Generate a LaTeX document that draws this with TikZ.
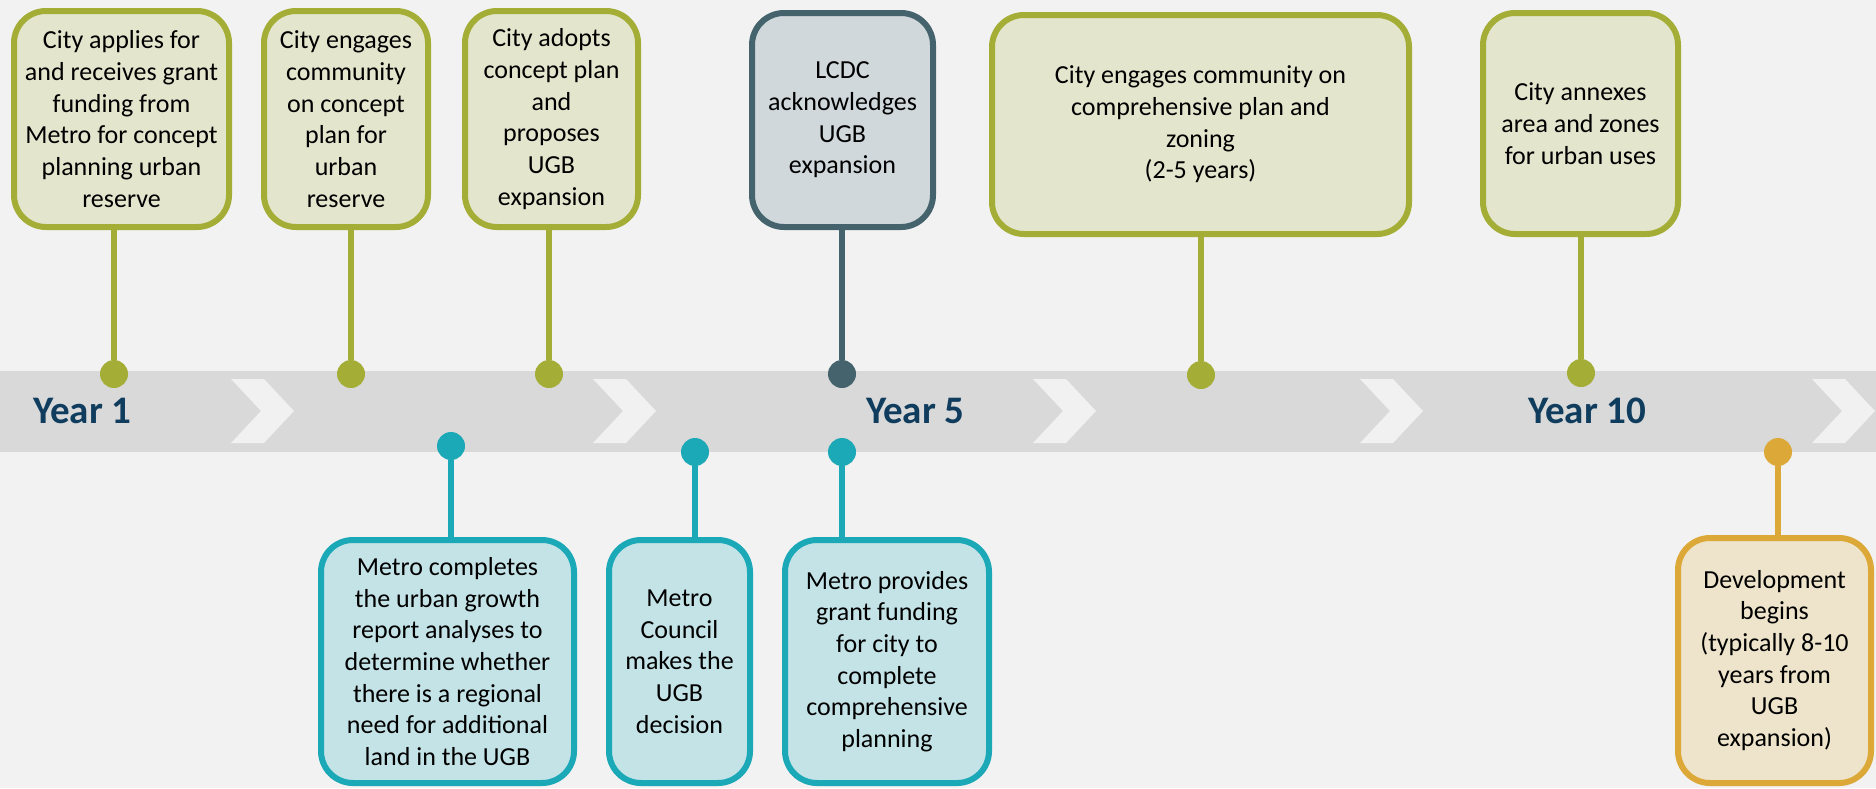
\documentclass[tikz,border=0pt]{standalone}
\usepackage{fontspec}
\setmainfont{Carlito}

\definecolor{bgcol}{HTML}{F2F2F2}
\definecolor{bandcol}{HTML}{D9D9D9}
\definecolor{chevcol}{HTML}{F1F1F1}
\definecolor{yearcol}{HTML}{103D5E}
\definecolor{olive}{HTML}{A4AE37}
\definecolor{olivefill}{HTML}{E4E5CD}
\definecolor{slate}{HTML}{45636D}
\definecolor{slatefill}{HTML}{D0D8DB}
\definecolor{tealc}{HTML}{1BA8B7}
\definecolor{tealfill}{HTML}{C4E3E7}
\definecolor{goldc}{HTML}{DCA939}
\definecolor{goldfill}{HTML}{EEE4CB}

\tikzset{
  event/.style={rounded corners=32pt, line width=6pt, align=center, inner sep=0pt,
    font=\fontsize{26}{31.7}\selectfont},
  citybox/.style={event, draw=olive, fill=olivefill},
  lcdcbox/.style={event, draw=slate, fill=slatefill},
  metrobox/.style={event, draw=tealc, fill=tealfill},
  devbox/.style={event, draw=goldc, fill=goldfill},
  dot/.style={shape=circle, minimum size=28pt, inner sep=0pt},
  stem/.style={line width=5.5pt},
  year/.style={anchor=west, inner sep=0pt, text=yearcol,
    font=\fontsize{39}{44}\selectfont\bfseries}
}

\begin{document}
\begin{tikzpicture}[x=1pt,y=-1pt]
    \useasboundingbox (0,0) rectangle (1876,788);
    \fill[bgcol] (0,0) rectangle (1876,788);
    % time band with chevrons
    \fill[bandcol] (0,371) rectangle (1876,452);
    \foreach \cx in {231,593,1033,1360,1812}
        \fill[chevcol] (\cx,379) -- ++(33,0) -- ++(30,32) -- ++(-30,32) -- ++(-33,0) -- ++(30,-32) -- cycle;

    \node[year] (y1) at (33,411) {Year 1};
    \node[year] (y5) at (866,411) {Year 5};
    \node[year] (y10) at (1528,411) {Year 10};

    % dots on the band
    \node[dot, fill=olive] (d1) at (114,374) {};
    \node[dot, fill=olive] (d2) at (351,374) {};
    \node[dot, fill=olive] (d3) at (549,374) {};
    \node[dot, fill=slate] (dl) at (842,374) {};
    \node[dot, fill=olive] (d5) at (1201,375) {};
    \node[dot, fill=olive] (d6) at (1581,373) {};
    \node[dot, fill=tealc] (t1) at (451,446) {};
    \node[dot, fill=tealc] (t2) at (695,452) {};
    \node[dot, fill=tealc] (t3) at (842,452) {};
    \node[dot, fill=goldc] (g1) at (1778,452) {};

    % city and LCDC steps above
    \node[citybox, minimum width=215pt, minimum height=216pt] (b1) at (121.5,119)
        {City applies for\\and receives grant\\funding from\\Metro for concept\\planning urban\\reserve};
    \node[citybox, minimum width=164pt, minimum height=216pt] (b2) at (346,119)
        {City engages\\community\\on concept\\plan for\\urban\\reserve};
    \node[citybox, minimum width=173pt, minimum height=216pt] (b3) at (551.5,119)
        {City adopts\\concept plan\\and\\proposes\\UGB\\expansion};
    \node[lcdcbox, minimum width=181pt, minimum height=214pt] (bl) at (842.5,120)
        {LCDC\\acknowledges\\UGB\\expansion};
    \node[citybox, minimum width=417pt, minimum height=219pt] (b5) at (1200.5,124.5)
        {City engages community on\\comprehensive plan and\\zoning\\(2-5 years)};
    \node[citybox, minimum width=195pt, minimum height=221pt] (b6) at (1580.5,123.5)
        {City annexes\\area and zones\\for urban uses};

    % metro steps below
    \node[metrobox, minimum width=253pt, minimum height=243pt] (m1) at (447.5,661.5)
        {Metro completes\\the urban growth\\report analyses to\\determine whether\\there is a regional\\need for additional\\land in the UGB};
    \node[metrobox, minimum width=141pt, minimum height=243pt] (m2) at (679.5,661.5)
        {Metro\\Council\\makes the\\UGB\\decision};
    \node[metrobox, minimum width=204pt, minimum height=243pt] (m3) at (887,661.5)
        {Metro provides\\grant funding\\for city to\\complete\\comprehensive\\planning};
    \node[devbox, minimum width=193pt, minimum height=245pt] (dv) at (1774.5,660.5)
        {Development\\begins\\(typically 8-10\\years from\\UGB\\expansion)};

    \draw[stem, olive] (d1) -- (d1 |- b1.south);
    \draw[stem, olive] (d2) -- (d2 |- b2.south);
    \draw[stem, olive] (d3) -- (d3 |- b3.south);
    \draw[stem, slate] (dl) -- (dl |- bl.south);
    \draw[stem, olive] (d5) -- (d5 |- b5.south);
    \draw[stem, olive] (d6) -- (d6 |- b6.south);
    \draw[stem, tealc] (t1) -- (t1 |- m1.north);
    \draw[stem, tealc] (t2) -- (t2 |- m2.north);
    \draw[stem, tealc] (t3) -- (t3 |- m3.north);
    \draw[stem, goldc] (g1) -- (g1 |- dv.north);
\end{tikzpicture}
\end{document}
